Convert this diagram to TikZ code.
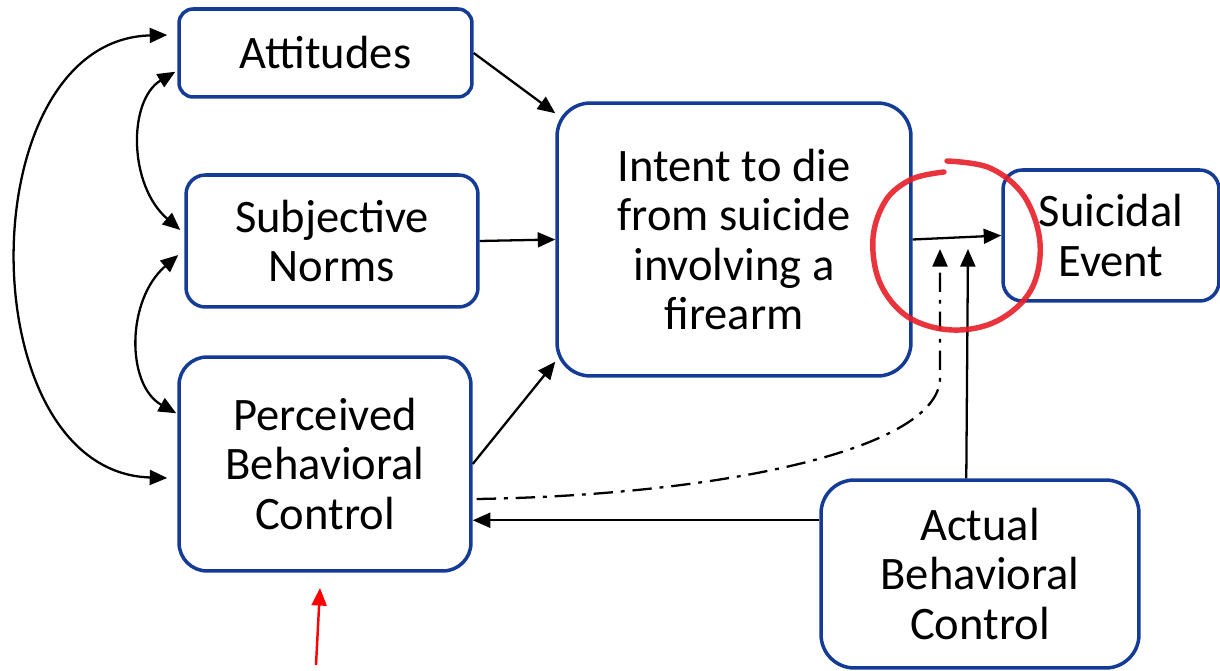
\documentclass[tikz,border=0pt]{standalone}
\usepackage{fontspec}
\setmainfont{Carlito}
\usetikzlibrary{arrows.meta,calc}
\definecolor{boxblue}{RGB}{20,60,150}
\definecolor{redmark}{RGB}{232,30,40}
\begin{document}
\begin{tikzpicture}[x=0.02cm,y=-0.02cm,
  box/.style={draw=boxblue,line width=2pt,inner sep=0pt,align=center,
              font=\fontsize{26.5}{28.2}\selectfont},
  tip/.style={},
  arr/.style={-{Triangle[length=10pt,width=8.5pt]},line width=1.3pt},
  darr/.style={{Triangle[length=10pt,width=8.5pt]}-{Triangle[length=10pt,width=8.5pt]},line width=1.3pt},
  dd/.style={arr,dash pattern=on 11pt off 4.5pt on 2.2pt off 4.5pt},
  redarr/.style={-{Triangle[length=10pt,width=8.5pt]},line width=1.4pt,draw=red,fill=red},
  redring/.style={draw=redmark,line width=3.1pt,line cap=round,opacity=0.9}
]
\clip (0,0) rectangle (1220,671);
\fill[white] (0,0) rectangle (1220,671);

% boxes
\node[box,rounded corners=8pt,minimum width=5.86cm,minimum height=1.76cm] (att) at (325.5,53) {Attitudes};
\node[box,rounded corners=11pt,minimum width=5.84cm,minimum height=2.64cm] (sn) at (332,241) {Subjective\\Norms};
\node[box,rounded corners=16pt,minimum width=5.84cm,minimum height=4.28cm] (pbc) at (325,464) {Perceived\\Behavioral\\Control};
\node[box,rounded corners=19pt,minimum width=7.08cm,minimum height=5.46cm] (int) at (734,239.5) {Intent to die\\from suicide\\involving a\\firearm};
\node[box,rounded corners=11pt,minimum width=4.32cm,minimum height=2.62cm] (se) at (1111,235.5) {Suicidal\\Event};
\node[box,rounded corners=19pt,minimum width=6.36cm,minimum height=3.76cm] (abc) at (980,574) {Actual\\Behavioral\\Control};

% named free ends
\coordinate (t1) at (940,249);
\coordinate (t2) at (968,249);
\coordinate (r0) at (316,665);
\coordinate (r1) at (320,588);

% arrows into intent
\draw[arr] (att.east) -- ($(int.north west)+(0,12)$);
\draw[arr] (sn.east) -- (int.west);
\draw[arr] (pbc.east) -- ($(int.south west)+(0,-16)$);

% intent -> suicidal event
\draw[arr] (int.east) -- (se.west);

% actual behavioral control
\draw[arr] ($(abc.north west)+(147,0)$) -- (t2);
\coordinate (a1) at ($(abc.north west)+(0,42)$);
\draw[arr] (a1) -- (a1 -| pbc.east);

% dash-dot from PBC
\draw[dd] ($(pbc.east)+(4,35)$) .. controls (720,495) and (935,450) .. (940,380) -- (t1);

% left correlations
\draw[darr] ($(att.west)+(-10,-18)$) .. controls (-32,40) and (-32,472) .. ($(pbc.west)+(-10,14)$);
\draw[darr] ($(att.south west)+(-2,-27)$) .. controls (128,100) and (128,185) .. ($(sn.west)+(-4,-11)$);
\draw[darr] ($(sn.west)+(-6,14)$) .. controls (126,300) and (126,385) .. ($(pbc.north west)+(-1,58)$);

% red annotations
\draw[redarr] (r0) -- (r1);
\draw[redring] plot[smooth,tension=0.6] coordinates {
  (947,161) (990,168) (1024,196) (1040,243) (1031,290) (997,321) (952,330)
  (908,317) (880,283) (873,238) (886,200) (912,179) (944,172)};
\end{tikzpicture}
\end{document}
